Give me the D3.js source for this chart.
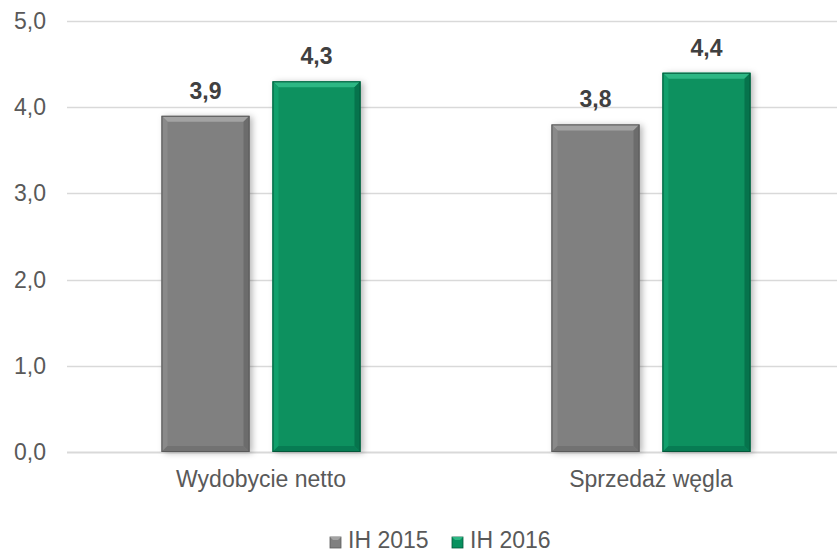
<!DOCTYPE html>
<html><head><meta charset="utf-8">
<script src="https://cdn.jsdelivr.net/npm/d3@7/dist/d3.min.js"></script>
<style>body{margin:0;background:#fff}svg{display:block;font-family:"Liberation Sans",Arial,sans-serif}</style>
</head><body><svg id="c" width="837" height="553"></svg>
<script>
const categories = ["Wydobycie netto", "Sprzedaż węgla"];
const seriesNames = ["IH 2015", "IH 2016"];
const values2015 = [3.9, 3.8];
const values2016 = [4.3, 4.4];
const yTicks = [0, 1, 2, 3, 4, 5];

const colors = {
  "IH 2015": {main:"#808080", top:"#a3a3a3", left:"#8a8a8a", right:"#6c6c6c", bottom:"#727272", edge:"#5a5a5a"},
  "IH 2016": {main:"#08915f", top:"#2db784", left:"#11a06c", right:"#06734c", bottom:"#077c53", edge:"#04573a"}
};

const svg = d3.select("#c");
const W = 837;
const FS = 23;
const y = d3.scaleLinear().domain([0,5]).range([452,21]);
const x0 = d3.scaleBand().domain(categories).range([66,846]).paddingInner(0.4897).paddingOuter(0.2449);
const x1 = d3.scaleBand().domain(seriesNames).range([0,x0.bandwidth()]).paddingInner(0.207);
const fmt = v => d3.format(".1f")(v).replace(".", ",");

const defs = svg.append("defs");
const f = defs.append("filter").attr("id","sh").attr("x","-20%").attr("y","-10%").attr("width","150%").attr("height","130%");
f.append("feDropShadow").attr("dx",3).attr("dy",1).attr("stdDeviation",3).attr("flood-color","#000").attr("flood-opacity",0.28);

// gridlines
svg.append("g").selectAll("line").data(yTicks).join("line")
  .attr("x1",67).attr("x2",W).attr("y1",d=>Math.round(y(d))+0.5).attr("y2",d=>Math.round(y(d))+0.5)
  .attr("stroke","#d9d9d9").attr("stroke-width",d=>d===0?2:1.3);

// y labels
svg.append("g").selectAll("text").data(yTicks).join("text")
  .attr("x",46).attr("y",d=>y(d)+8).attr("text-anchor","end")
  .attr("font-size",FS).attr("fill","#595959").text(d=>fmt(d));

const data = categories.map((c,i)=>({cat:c, vals:[{s:"IH 2015",v:values2015[i]},{s:"IH 2016",v:values2016[i]}]}));
const b = 6;
const groups = svg.append("g").selectAll("g").data(data).join("g")
  .attr("transform",d=>`translate(${x0(d.cat)},0)`);
const bars = groups.selectAll("g").data(d=>d.vals).join("g");
bars.each(function(d){
  const g = d3.select(this);
  const c = colors[d.s];
  const xl = x1(d.s), xr = xl + x1.bandwidth(), yt = y(d.v), yb = y(0);
  g.append("rect").attr("x",xl).attr("y",yt).attr("width",xr-xl).attr("height",yb-yt)
    .attr("fill",c.main).attr("filter","url(#sh)");
  const poly = pts => g.append("polygon").attr("points",pts.map(p=>p.join(",")).join(" "));
  poly([[xl,yt],[xr,yt],[xr-b,yt+b],[xl+b,yt+b]]).attr("fill",c.top);
  poly([[xl,yt],[xl+b,yt+b],[xl+b,yb-b],[xl,yb]]).attr("fill",c.left);
  poly([[xr,yt],[xr,yb],[xr-b,yb-b],[xr-b,yt+b]]).attr("fill",c.right);
  poly([[xl,yb],[xl+b,yb-b],[xr-b,yb-b],[xr,yb]]).attr("fill",c.bottom);
  g.append("rect").attr("x",xl+0.5).attr("y",yt+0.5).attr("width",xr-xl-1).attr("height",yb-yt-1)
    .attr("fill","none").attr("stroke",c.edge).attr("stroke-width",1);
  g.append("text").attr("x",(xl+xr)/2).attr("y",yt-17).attr("text-anchor","middle")
    .attr("font-size",FS).attr("font-weight","bold").attr("fill","#404040").text(fmt(d.v));
});

// category labels
svg.append("g").selectAll("text").data(categories).join("text")
  .attr("x",d=>x0(d)+x0.bandwidth()/2).attr("y",487).attr("text-anchor","middle")
  .attr("font-size",FS).attr("fill","#595959").text(d=>d);

// legend
const legX = [330, 452];
const leg = svg.append("g").selectAll("g").data(seriesNames).join("g")
  .attr("transform",(d,i)=>`translate(${legX[i]},537)`);
leg.each(function(d){
  const g = d3.select(this), c = colors[d], s = 11, bb = 3;
  g.append("rect").attr("width",s).attr("height",s).attr("fill",c.main).attr("stroke",c.edge).attr("stroke-width",0.8);
  g.append("polygon").attr("points",`0,0 ${s},0 ${s-bb},${bb} ${bb},${bb}`).attr("fill",c.top);
  g.append("text").attr("x",18).attr("y",11).attr("font-size",FS).attr("fill","#595959").text(d);
});
</script></body></html>
